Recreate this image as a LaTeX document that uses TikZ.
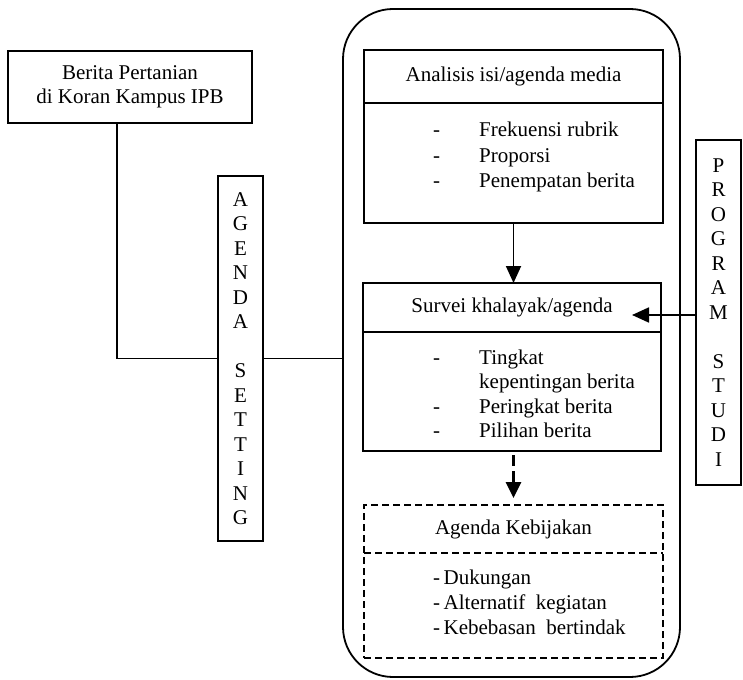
\documentclass[tikz,border=0pt]{standalone}
\usepackage{fontspec}
\setmainfont{Liberation Serif}
\usetikzlibrary{positioning, arrows.meta}

\newcommand{\listdash}{\makebox[46pt][l]{-}}

\begin{document}
\begin{tikzpicture}[
    x=1pt, y=-1pt,
    font=\fontsize{21}{24.5}\selectfont,
    box/.style={draw, line width=1.8pt, rectangle, inner sep=0pt, outer sep=0pt, align=center},
    dashbox/.style={box, line width=1.5pt, dash pattern=on 7pt off 4pt},
    frame/.style={draw, line width=1.8pt, rectangle, outer sep=0pt, rounded corners=50pt},
    title/.style={rectangle, inner sep=0pt, outer sep=0pt, align=center},
    link/.style={draw, line width=1.8pt},
    flow/.style={link, -{Triangle[length=17pt, width=15pt]}},
    dashflow/.style={draw, line width=3pt, dash pattern=on 11pt off 5pt, -{Triangle[length=16pt, width=15pt]}},
    item/.style={anchor=base west, inner sep=0pt}
]
\useasboundingbox (0,0) rectangle (743,679);

% ============================================================
% LEFT: source box and AGENDA SETTING column
% ============================================================
\node[box, minimum width=244pt, minimum height=72pt] (berita) at (130,87)
    {Berita Pertanian\\di Koran Kampus IPB};
\node[box, minimum width=45pt, minimum height=365pt] (agenda) at (240.5,358.5)
    {A\\G\\E\\N\\D\\A\\\mbox{}\\S\\E\\T\\T\\I\\N\\G};

% ============================================================
% CENTRE: rounded frame holding the three agendas
% ============================================================
\node[frame, minimum width=337pt, minimum height=668pt] (frame) at (511.5,343) {};

% Analisis isi/agenda media
\node[box, minimum width=299pt, minimum height=53pt] (analisis) at (513.5,76.5)
    {Analisis isi/agenda media};
\node[box, minimum width=299pt, minimum height=120pt, below=0pt of analisis] (analisisisi) {};
\node[item] (frekuensi) at (433,137) {\listdash Frekuensi rubrik};
\node[item] (proporsi) at (433,162) {\listdash Proporsi};
\node[item] (penempatan) at (433,187) {\listdash Penempatan berita};

% Survei khalayak/agenda
\node[box, minimum width=298pt, minimum height=49pt] (survei) at (512,307.5)
    {Survei khalayak/agenda};
\node[box, minimum width=298pt, minimum height=119pt, below=0pt of survei] (surveiisi) {};
\node[item] (tingkat) at (433,364) {\listdash Tingkat};
\node[item] (kepentingan) at (479,388.5) {kepentingan berita};
\node[item] (peringkat) at (433,413) {\listdash Peringkat berita};
\node[item] (pilihan) at (433,437.5) {\listdash Pilihan berita};

% Agenda Kebijakan (dashed)
\node[dashbox, minimum width=299pt, minimum height=153pt] (kebijakanbox) at (513.5,581.5) {};
\node[title, minimum width=299pt, minimum height=48pt, below=0pt of kebijakanbox.north] (kebijakan)
    {Agenda Kebijakan};
\draw[line width=1.5pt, dash pattern=on 7pt off 4pt] (kebijakan.south west) -- (kebijakan.south east);
\node[item] (dukungan) at (433,584) {-\,Dukungan};
\node[item] (alternatif) at (433,609) {-\,Alternatif~~kegiatan};
\node[item] (kebebasan) at (433,634) {-\,Kebebasan~~bertindak};

% ============================================================
% RIGHT: PROGRAM STUDI column
% ============================================================
\node[box, minimum width=45pt, minimum height=345pt] (program) at (718.5,312.5)
    {P\\R\\O\\G\\R\\A\\M\\\mbox{}\\S\\T\\U\\D\\I};

% ============================================================
% CONNECTIONS
% ============================================================
\coordinate (beritaout) at (117,123);
\draw[link] (beritaout) |- (agenda.west);
\draw[link] (agenda.east) -- (agenda.east -| frame.west);

\draw[flow] (analisisisi.south) -- (analisisisi.south |- survei.north);
\draw[dashflow, shorten <=4pt, shorten >=7pt] (analisisisi.south |- surveiisi.south) -- (analisisisi.south |- kebijakanbox.north);

\coordinate (surveitip) at (632,315);
\draw[flow] (program.west |- surveitip) -- (surveitip);

\end{tikzpicture}
\end{document}
